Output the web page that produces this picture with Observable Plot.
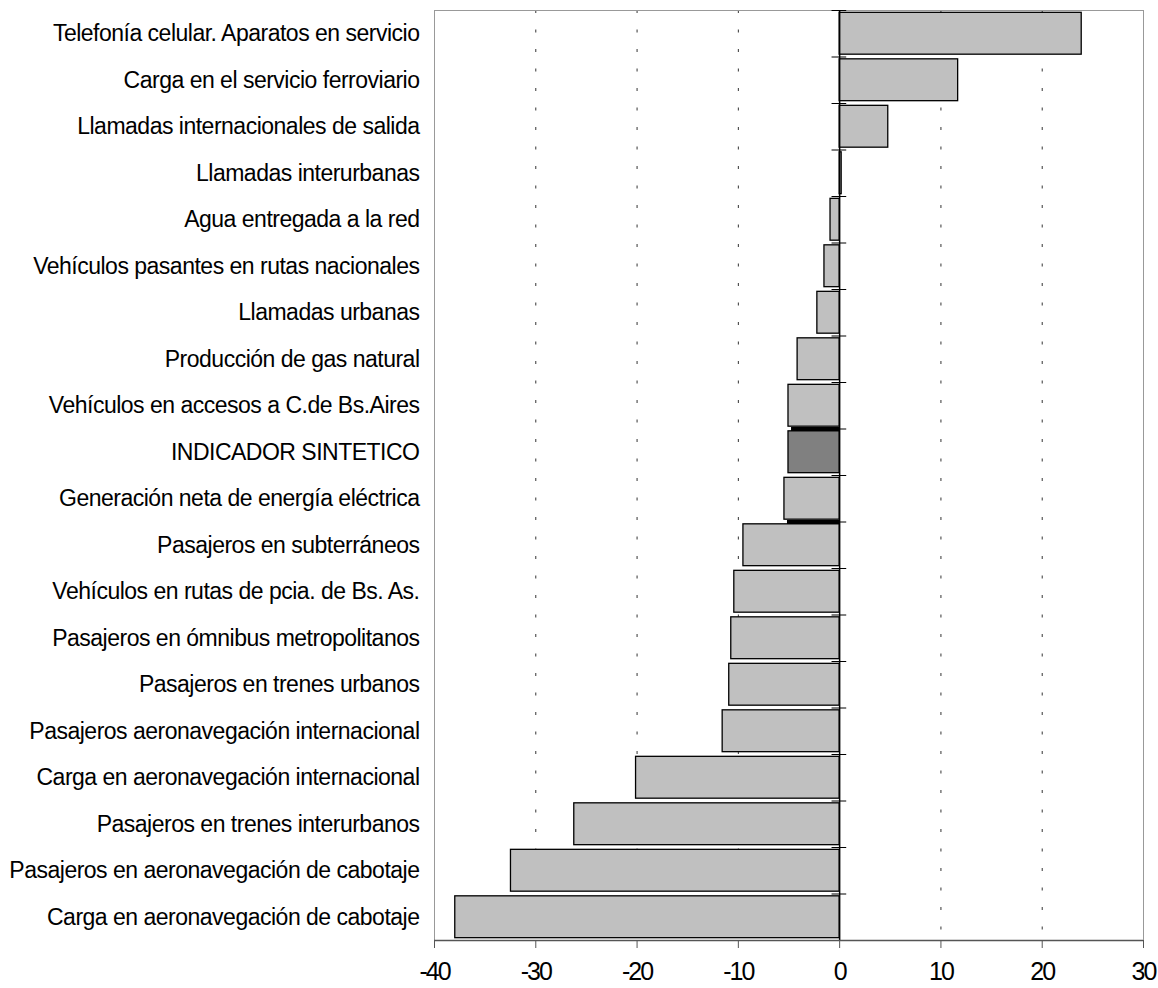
<!DOCTYPE html>
<html>
<head>
<meta charset="utf-8">
<script src="https://cdn.jsdelivr.net/npm/d3@7"></script>
<script src="https://cdn.jsdelivr.net/npm/@observablehq/plot@0.6"></script>
<style>
  html, body { margin: 0; padding: 0; background: #fff; }
  #chart svg { display: block; }
</style>
</head>
<body>
<div id="chart"></div>
<script>
const categories = [
  "Telefonía celular. Aparatos en servicio",
  "Carga en el servicio ferroviario",
  "Llamadas internacionales de salida",
  "Llamadas interurbanas",
  "Agua entregada a la red",
  "Vehículos pasantes en rutas nacionales",
  "Llamadas urbanas",
  "Producción de gas natural",
  "Vehículos en accesos a C.de Bs.Aires",
  "INDICADOR SINTETICO",
  "Generación neta de energía eléctrica",
  "Pasajeros en subterráneos",
  "Vehículos en rutas de pcia. de Bs. As.",
  "Pasajeros en ómnibus metropolitanos",
  "Pasajeros en trenes urbanos",
  "Pasajeros aeronavegación internacional",
  "Carga en aeronavegación internacional",
  "Pasajeros en trenes interurbanos",
  "Pasajeros en aeronavegación de cabotaje",
  "Carga en aeronavegación de cabotaje"
];
const values = [23.9, 11.7, 4.8, 0.2, -0.9, -1.5, -2.2, -4.15, -5.05, -5.05,
                -5.45, -9.5, -10.4, -10.7, -10.9, -11.55, -20.1, -26.2, -32.45, -37.95];
const highlight = "INDICADOR SINTETICO";
const xTicks = [-40, -30, -20, -10, 0, 10, 20, 30];
const gridValues = [-30, -20, -10, 10, 20];
const segCats = ["Vehículos en accesos a C.de Bs.Aires", "Generación neta de energía eléctrica"];
const segStarts = [-4.75, -5.15];

const data = categories.map((c, i) => ({cat: c, value: values[i]}));
const segs = segCats.map((c, i) => ({cat: c, x1: segStarts[i]}));

const W = 1158, H = 988;
const mT = 10, mB = 48, mL = 434, mR = 15;
const n = categories.length;
const step = (H - mT - mB) / n;
const half = step / 2;

const plot = Plot.plot({
  width: W,
  height: H,
  marginTop: mT,
  marginBottom: mB,
  marginLeft: mL,
  marginRight: mR,
  style: {fontFamily: "'Liberation Sans', Arial, sans-serif", background: "#fff", color: "#000"},
  x: {domain: [-40, 30], label: null},
  y: {domain: categories, paddingInner: 0.1, paddingOuter: 0.05, round: false, label: null},
  marks: [
    Plot.ruleX(gridValues, {stroke: "#333", strokeWidth: 1, strokeDasharray: "3,16.5"}),
    Plot.frame({stroke: "#999", strokeWidth: 1}),
    Plot.barX(data.filter(d => d.cat !== highlight), {x: "value", y: "cat", fill: "#c0c0c0", stroke: "#000", strokeWidth: 1.3}),
    Plot.barX(data.filter(d => d.cat === highlight), {x: "value", y: "cat", fill: "#808080", stroke: "#000", strokeWidth: 1.3}),
    Plot.ruleY(segs, {y: "cat", x1: "x1", x2: 0, dy: half, stroke: "#000", strokeWidth: 4}),
    Plot.ruleX([0], {stroke: "#000", strokeWidth: 1.5}),
    Plot.ruleY(categories, {y: d => d, x1: -0.75, x2: 0.7, dy: half, stroke: "#000", strokeWidth: 1}),
    Plot.ruleY([categories[0]], {y: d => d, x1: -0.75, x2: 0.7, dy: -half, stroke: "#000", strokeWidth: 1}),
    Plot.ruleY([categories[n - 1]], {y: d => d, dy: half, stroke: "#555", strokeWidth: 1.5}),
    Plot.axisX(xTicks, {tickSize: 8, tickPadding: 14, fontSize: 25, stroke: "#555", fill: "#000", tickFormat: d => String(d), label: null}),
    Plot.axisY({tickSize: 0, tickPadding: 15, fontSize: 23, fill: "#000", label: null})
  ]
});

const svg = d3.select(plot);
svg.selectAll('[aria-label="x-axis tick label"] text').attr("letter-spacing", "-2px");
svg.selectAll('[aria-label="y-axis tick label"] text').attr("letter-spacing", "-0.5px");

document.getElementById("chart").appendChild(plot);
</script>
</body>
</html>
